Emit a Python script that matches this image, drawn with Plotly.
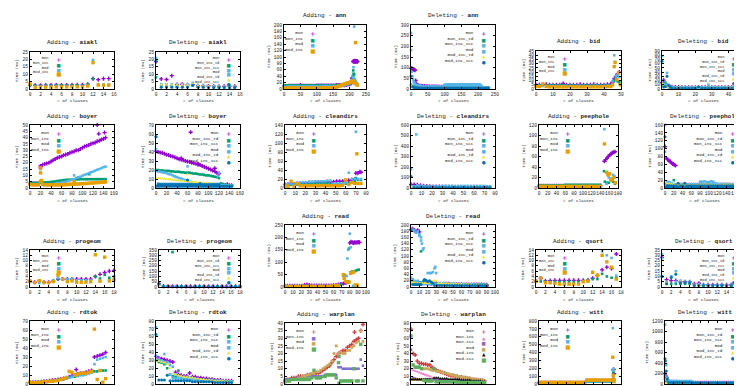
import plotly.graph_objects as go

W, H = 742, 386
MONO = "Liberation Mono, Courier New, monospace"


def run(x0, step, ys):
    return ([round(x0 + step * i, 3) for i in range(len(ys))], list(ys))


def at(*pairs):
    return ([p[0] for p in pairs], [p[1] for p in pairs])


def S(*parts):
    xs, ys = [], []
    for px, py in parts:
        xs += px
        ys += py
    return (xs, ys)


# ---------------- aiakl ----------------
aiakl_add_mon = S(run(0, 1, [2.6, 2.5, 2.5, 2.6, 2.6, 2.7, 2.7, 2.7, 2.8, 2.8, 2.8, 3.2, 7.0, 6.3, 7.0, 7.0]))
aiakl_add_mon_inc = S(run(0, 1, [2.3, 2.3, 2.3, 2.4, 2.4, 2.5, 2.5, 2.5, 2.5, 2.5, 2.6, 3.0, 6.8, 3.0, 2.8, 2.8]))
aiakl_add_mod = S(run(0, 1, [3.0, 1.5, 1.5, 1.6, 1.6, 1.7, 1.7, 1.7, 1.8, 1.8, 1.8, 2.4, 19.6, 2.8, 2.7, 2.7]))
aiakl_add_mod_inc = S(run(0, 1, [3.4, 1.2, 1.2, 1.3, 1.3, 1.4, 1.4, 1.4, 1.5, 1.5, 1.5, 2.0, 17.8, 2.7, 2.6, 2.6]))

aiakl_del_mon = S(run(0, 1, [18.5, 6.8, 6.4, 9.0, 3.0, 3.2, 2.8, 3.0, 2.2, 2.0, 2.0, 1.9, 1.8, 1.8, 1.8, 1.8]))
aiakl_del_mon_inc_td = S(run(0, 1, [7.9, 2.0, 2.0, 2.0, 1.9, 1.9, 1.9, 2.4, 1.5, 1.5, 1.4, 1.4, 1.3, 1.3, 1.3, 1.3]))
aiakl_del_mon_inc_scc = S(run(0, 1, [20.0, 1.8, 1.8, 1.8, 1.7, 1.7, 1.7, 2.2, 1.4, 1.4, 1.3, 1.3, 1.2, 1.2, 1.2, 1.2]))
aiakl_del_mod = S(run(0, 1, [21.0, 3.3, 3.2, 3.2, 3.1, 3.0, 3.0, 4.2, 2.6, 2.2, 2.0, 1.8, 1.7, 1.6, 1.6, 1.5]))
aiakl_del_mod_inc_td = S(run(0, 1, [19.5, 2.9, 2.9, 2.9, 2.8, 2.8, 2.8, 3.4, 2.2, 1.9, 1.8, 1.6, 1.5, 1.5, 1.4, 1.4]))
aiakl_del_mod_inc_scc = S(run(0, 1, [19.0, 1.2, 1.2, 1.2, 1.2, 1.2, 1.2, 2.5, 1.1, 1.1, 1.0, 1.0, 1.0, 1.0, 1.0, 1.0]))

# ---------------- ann ----------------
ann_add_mon = S(run(0, 5, [9, 9, 9, 10, 10, 10, 10, 10, 10, 10, 12, 10, 10, 10, 10, 10, 10, 10, 10, 10,
                           11, 11, 11, 11, 11, 11, 11, 11, 11, 11, 11, 11, 12, 12, 12, 12, 12, 12, 13, 14, 15]),
                at((204, 17), (206, 25), (208, 33), (209, 35), (211, 86), (212, 87), (213, 85), (214, 87),
                   (215, 86), (216, 88), (217, 86), (218, 87), (219, 86), (220, 86), (221, 87), (222, 86),
                   (223, 86), (224, 86)))
ann_add_mon_inc = S(run(0, 5, [12, 10, 10, 10, 10, 10, 10, 10, 10, 10, 10, 10, 10, 10, 10, 10, 10, 10, 10, 10,
                               10, 10, 10, 10, 10, 10, 10, 10, 10, 10, 10, 11, 11, 11, 12, 12, 13, 13, 15, 16, 17]),
                    run(2.5, 5, [11, 11, 11, 11, 11, 11, 11, 11, 11, 11, 11, 11, 11, 11, 11, 11, 11, 11, 11, 11,
                                 11, 11, 11, 11, 11, 11, 11, 11, 11, 11, 11, 12, 12, 12, 13, 13, 14, 14, 16, 17]),
                    at((204, 20), (206, 22), (208, 30), (210, 40), (211, 58), (212, 48), (214, 45), (216, 22),
                       (218, 20), (220, 18), (222, 16)))
ann_add_mod = S(run(0, 5, [5, 7, 7, 8, 8, 8, 8, 8, 8, 8, 8, 8, 8, 8, 8, 8, 8, 8, 8, 8,
                           8, 8, 8, 8, 9, 9, 9, 9, 9, 9, 9, 9, 9, 10, 10, 10, 11, 12, 13, 15, 17]),
                at((204, 20), (206, 24), (208, 28), (210, 38), (212, 68), (213, 36), (214, 195), (216, 30),
                   (218, 25), (220, 20), (222, 18)))
ann_add_mod_inc = S(run(0, 5, [3, 3, 3, 3, 3, 3, 3, 3, 3, 3, 3, 3, 3, 3, 3, 3, 3, 3, 3, 3,
                               3, 3, 3, 3, 4, 4, 4, 4, 4, 4, 5, 5, 6, 8, 10, 12, 14, 16, 18, 19, 20]),
                    at((204, 22), (206, 24), (208, 25), (210, 24), (212, 22), (214, 20), (216, 18), (218, 145),
                       (220, 16), (222, 14), (224, 12)))

ann_del_mon = S(run(0, 2, [97, 96, 95, 93, 92, 90, 88, 40, 25, 20, 18]),
                run(25, 5, [15, 15, 14, 14, 13, 13, 12, 12, 12, 11, 11, 11, 10, 10, 10, 10, 9, 9, 9, 9,
                            8, 8, 8, 8, 8, 7, 7, 7, 7, 7, 7, 6, 6, 6, 6, 6, 6, 5, 5, 5, 5, 5]))
ann_del_mon_inc_td = S(run(0, 5, [20, 14, 12, 10, 10, 10, 9, 9, 9, 9, 9, 9, 9, 9, 8, 8, 8, 8, 8, 8,
                                  8, 8, 8, 8, 8, 8, 8, 8, 8, 8, 8, 8, 8, 8, 8, 8, 8, 8, 8, 8,
                                  8, 8, 7, 7, 7, 7, 7]))
ann_del_mon_inc_scc = S(run(0, 5, [182, 10, 8, 7, 7, 6, 6, 6, 6, 6, 6, 6, 6, 6, 6, 6, 6, 6, 6, 6,
                                   6, 6, 6, 6, 6, 6, 6, 6, 6, 6, 6, 6, 6, 6, 6, 6, 6, 6, 6, 5,
                                   5, 5, 5, 5, 5, 5, 5]))
ann_del_mod = S(run(0, 2, [262, 80, 60, 45, 35, 30, 25]),
                run(15, 5, [20, 18, 16, 14, 12, 12, 12, 12, 12, 12, 12, 12, 12, 12, 12, 12, 12, 15, 18, 20,
                            21, 21, 21, 21, 21, 21, 21, 21, 21, 21, 21, 21, 21, 21, 21, 21, 21, 21, 20, 15,
                            8, 6, 5]),
                run(102.5, 5, [14, 16, 17, 15, 16, 17, 15, 16, 17, 15, 16, 17, 15, 16, 17, 15, 16, 17, 15, 16,
                               17, 15]),
                run(100, 2.5, [19, 20, 19, 20, 19, 20, 19, 20, 19, 20, 19, 20, 19, 20, 19, 20, 19, 20, 19, 20,
                               19, 20, 19, 20, 19, 20, 19, 20, 19, 20, 19, 20, 19, 20, 19, 20, 19, 20, 19, 20,
                               19, 20, 19]))
ann_del_mod_inc_td = S(run(0, 5, [15, 8, 6, 5, 5, 4, 4, 4, 4, 4, 4, 4, 4, 4, 4, 4, 4, 4, 4, 4,
                                  4, 4, 4, 4, 4, 4, 4, 4, 4, 4, 4, 4, 4, 4, 4, 4, 4, 4, 4, 4,
                                  3, 3, 3, 3, 3, 3, 3]))
ann_del_mod_inc_scc = S(run(0, 5, [60, 9, 7, 6, 6, 5, 5, 5, 5, 5, 5, 5, 5, 5, 5, 5, 5, 5, 5, 5,
                                   5, 5, 5, 5, 5, 5, 5, 5, 5, 5, 5, 5, 5, 5, 5, 5, 5, 5, 5, 5,
                                   5, 5, 4, 4, 4, 4, 4]))

# ---------------- bid ----------------
bid_add_mon = S(run(0, 2, [5, 5, 5, 5.5, 5, 5, 5, 5, 6.5, 5, 5, 5, 5, 5.5, 5, 5, 5, 5.5, 5, 5, 5, 5.5, 6]),
                run(45, 1, [8, 12, 15, 18, 20]))
bid_add_mon_inc = S(run(0, 2, [4.5, 4.5, 4.5, 4.5, 4.5, 4.5, 4.5, 4.5, 4.5, 4.5, 4.5, 4.5, 4.5, 4.5, 4.5,
                               4.5, 4.5, 4.5, 4.5, 4.5, 4.5, 4.5, 4.5]),
                    run(45, 1, [6, 10, 13, 9, 8]))
bid_add_mod = S(run(0, 2, [4, 3.5, 3.5, 3.5, 3.5, 3.5, 3.5, 3.5, 3.5, 3.5, 3.5, 3.5, 3.5, 3.5, 3.5,
                           3.5, 3.5, 3.5, 3.5, 3.5, 3.5, 3.8, 4]),
                at((45, 9), (46, 40), (46.5, 32), (47, 15), (48, 17), (49, 14)))
bid_add_mod_inc = S(run(0, 2, [3, 3, 6, 3, 2.5, 2.5, 2.5, 2.5, 2.5, 2.5, 2.5, 2.5, 2.5, 2.5, 2.5,
                               2.5, 2.5, 2.5, 2.5, 2.5, 2.5, 2.8, 3]),
                    at((45, 5), (46, 26.5), (46.5, 31.5), (47.5, 11), (48.5, 19), (49.5, 5)))

bid_del_mon = S(run(0, 1, [15, 21, 12, 8, 6, 5]),
                run(6, 2, [5, 4.5, 4.5, 4, 4, 4, 4, 4, 4, 4, 4, 4, 4, 4, 4, 4, 4, 4, 4, 4, 4, 4]))
bid_del_mon_inc_td = S(run(0, 1, [12, 8, 15, 6, 5, 4]),
                       run(6, 2, [3.5, 3.5, 3.5, 3.5, 3.5, 3.5, 3.5, 3.5, 3.5, 3.5, 3.5, 3.5, 3.5, 3.5, 3.5,
                                  3.5, 3.5, 3.5, 3.5, 3.5, 3.5, 3.5]))
bid_del_mon_inc_scc = S(run(0, 1, [20, 12, 10, 8, 5, 4]),
                        run(6, 2, [3, 3, 3, 3, 3, 3, 3, 3, 3, 3, 3, 3, 3, 3, 3, 3, 3, 3, 3, 3, 3, 3]))
bid_del_mod = S(run(0, 1, [78, 8, 10, 38, 10, 6]),
                run(6, 2, [4, 4, 4, 4, 4, 4, 4, 4, 4, 4, 4, 10, 4, 4, 4, 4, 4, 4, 4, 4, 4, 4]))
bid_del_mod_inc_td = S(run(0, 1, [14, 7, 6, 6, 5, 4]),
                       run(6, 2, [3, 3, 3, 3, 3, 3, 3, 3, 3, 3, 3, 3, 3, 3, 3, 3, 3, 3, 3, 3, 3, 3]))
bid_del_mod_inc_scc = S(run(0, 1, [66, 5, 6, 30, 8, 5]),
                        run(6, 2, [2, 2, 2, 2, 2, 2, 2, 2, 5, 2, 2, 2, 2, 2, 2, 2, 2, 2, 2, 2, 2, 2]))

# ---------------- boyer ----------------
boyer_add_mon = S(run(0, 4, [3.5, 3.5, 3.5, 3.5, 3.5, 17.5, 18.5, 19, 19.5, 20, 21, 22, 23, 24, 24.5, 25, 26,
                             26.5, 27, 28, 28.5, 29, 30, 30, 31, 32, 33, 33.5, 34, 35, 35.5, 36, 37, 37.5,
                             38.5, 39, 40]),
                  at((20, 16), (128, 50), (131, 43), (142, 44)))
boyer_add_mon_inc = S(run(0, 4, [4, 4, 4, 4, 4, 4.2, 4.3, 4.4, 4.5, 4.6, 4.8, 5, 5.2, 5.5, 5.8, 6, 6.2, 6.4,
                                 6.5, 6.6, 6.7, 6.8, 6.8, 6.9, 7, 7, 7, 7, 7, 7, 7, 7, 7, 7, 7, 7, 7]),
                      at((20, 5.5), (113, 11)))
boyer_add_mod = S(run(0, 4, [3, 3, 3, 3, 3, 15, 2.5, 2.5, 2.5, 2.5, 3, 3, 3.2, 3.5, 3.8, 4, 4.5, 5, 5.5, 6,
                             6.5, 7, 8, 8.5, 9, 9.8, 10.5, 11, 11.8, 12.5, 13, 13.8, 14.5, 15, 15.8, 16.5, 17]),
                  at((84, 10)))
boyer_add_mod_inc = S(run(0, 4, [3, 2.5, 2.5, 2.5, 2.5, 12, 3, 2.5, 2.5, 2.5, 2.5, 2.5, 2.5, 2.5, 2.5, 2.5,
                                 2.5, 2.8, 2.8, 3, 3, 3, 3.2, 3.2, 3.4, 3.4, 3.5, 3.6, 3.8, 4, 4, 4.2, 4.3,
                                 4.4, 4.5, 4.6, 4.8]),
                      at((20, 16), (20, 5), (22, 6), (84, 5)))

boyer_del_mon = S(run(0, 4, [41, 40, 39.5, 39, 38, 37, 36.5, 35.5, 35, 34, 33, 32, 31.5, 31, 30, 29.5, 29, 28,
                             27.5, 27, 26, 25.5, 24.5, 23.5, 22.5, 21.5, 20.5, 19.5, 18.5, 17, 16, 4, 3.5, 3,
                             3, 3, 3]),
                  at((66, 62), (48, 33), (80, 27), (112, 22), (136, 4)))
boyer_del_mon_inc_td = S(run(0, 4, [20, 20, 19.5, 19.5, 19, 19, 19, 18.5, 18.5, 18, 18, 18, 17.5, 17.5, 17, 17,
                                    17, 16.5, 16, 16, 15.5, 15, 15, 14.5, 14, 14, 13.5, 13, 12.5, 12, 11, 5, 4,
                                    3.5, 3, 3, 3]))
boyer_del_mon_inc_scc = S(run(0, 4, [43, 5, 4.5, 4.5, 4.5, 4.5, 4.5, 4.5, 4.5, 4.5, 4.5, 4.5, 4.5, 4.5, 4.5,
                                     4.5, 4.5, 4.5, 4.5, 4.5, 4.5, 4.5, 4.5, 4.5, 4.5, 4.5, 4.5, 4.5, 4.5, 4.5,
                                     4.5, 3, 2.5, 2.5, 2.5, 2.5, 2.5]),
                          at((0, 57)))
boyer_del_mod = S(run(0, 4, [19, 18.5, 18, 17.5, 17, 16.5, 15.5, 15, 14, 13, 12, 11, 10.5, 9.5, 8.5, 8, 7, 6,
                             5, 4, 3, 2.5, 2, 2, 2, 2, 2, 2, 2, 2, 2, 2, 2, 2, 2, 2, 2]),
                  at((60, 24), (36, 13), (120, 17), (118, 13)))
boyer_del_mod_inc_td = S(run(0, 4, [11, 11, 10.5, 10.5, 10, 10, 9.5, 9.5, 9, 9, 8.5, 8.5, 8, 8, 7.5, 7.5, 7,
                                    7, 6.5, 6.5, 6, 6, 5.5, 5.5, 5, 5, 4.5, 4.5, 4, 4, 3.5, 2, 2, 2, 2, 2, 2]),
                         at((60, 15)))
boyer_del_mod_inc_scc = S(run(0, 4, [57, 4, 4, 4, 4, 4, 4, 4, 4, 4, 4, 4, 4, 4, 4, 4, 4, 4, 4, 4, 4, 4, 4,
                                     4, 4, 4, 4, 4, 4, 4, 4, 2, 2, 2, 2, 2, 2]),
                          run(2, 4, [2, 2, 2, 2, 2, 2, 2, 2, 2, 2, 2, 2, 2, 2, 2, 2, 2, 2, 2, 2, 2, 2, 2,
                                     2, 2, 2, 2, 2, 2, 2, 2]),
                          at((60, 9), (84, 5)))

# ---------------- cleandirs ----------------
clean_add_mon = S(run(0, 3, [8, 8, 9, 9, 10, 10, 11, 11, 12, 12, 12, 13, 13, 13, 14, 14, 14, 15, 15, 15, 16,
                             17, 18, 20, 33, 35]),
                  at((70, 33), (74, 36)))
clean_add_mon_inc = S(run(0, 3, [6, 6, 7, 7, 8, 8, 9, 9, 10, 10, 10, 10, 10, 10, 11, 8, 8, 8, 9, 9, 10, 11,
                                 12, 15, 18, 18]),
                      at((70, 22)))
clean_add_mod = S(run(0, 3, [7, 8, 9, 10, 11, 12, 13, 13, 14, 14, 15, 15, 15, 15, 16, 16, 10, 10, 10, 11, 12,
                             34, 20, 20, 20, 20]),
                  at((70, 125)))
clean_add_mod_inc = S(run(0, 3, [4, 4, 15, 4, 10, 5, 5, 5, 5, 5, 5, 5, 5, 5, 5, 5, 5, 5, 5, 6, 18, 8, 12,
                                 10, 10, 10]),
                      at((71, 76)))

clean_del_mon = S(run(0, 3, [35, 33, 30, 25, 20, 18, 16, 15, 14, 13, 12, 12, 11, 11, 10, 10, 10, 9, 9, 9, 8,
                             8, 8, 8, 8, 8]))
clean_del_mon_inc_td = S(run(0, 3, [20, 15, 12, 10, 10, 9, 9, 9, 9, 9, 9, 9, 9, 9, 9, 9, 9, 9, 9, 8, 8, 8,
                                    8, 8, 8, 8]))
clean_del_mon_inc_scc = S(run(0, 3, [15, 12, 10, 8, 8, 8, 8, 8, 8, 8, 8, 8, 8, 8, 8, 8, 8, 8, 8, 8, 8, 8,
                                     8, 8, 8, 8]))
clean_del_mod = S(run(0, 3, [180, 10, 25, 20, 20, 15, 15, 15, 15, 15, 20, 20, 20, 20, 20, 20, 20, 20, 20,
                             20, 20, 20, 20, 20, 18, 15]),
                  at((5, 510)))
clean_del_mod_inc_td = S(run(0, 3, [12, 8, 6, 5, 5, 5, 5, 5, 5, 5, 5, 5, 5, 5, 5, 5, 5, 5, 5, 5, 5, 5, 5,
                                    5, 5, 5]))
clean_del_mod_inc_scc = S(run(0, 3, [110, 5, 4, 4, 4, 4, 4, 4, 4, 4, 4, 4, 4, 4, 4, 4, 4, 4, 4, 4, 4, 4,
                                     4, 4, 4, 4]))

# ---------------- peephole ----------------
pee_add_mon = S(run(0, 5, [4, 4, 4, 4, 4, 4, 4, 4, 4, 4, 4, 4, 4, 4, 4, 4, 4, 4, 4, 4, 4, 4, 4, 4, 4, 4,
                           4, 4, 4]),
                run(149, 3, [51, 54, 57, 60, 63, 65, 67, 68, 69]))
pee_add_mon_inc = S(run(0, 5, [5, 5, 5, 5, 5, 5, 5, 5, 5, 5, 5, 5, 6, 6, 6, 6, 6, 6, 6, 6, 6, 6, 6, 6, 6,
                               6, 6, 6, 6]),
                    at((148, 32), (150, 12), (154, 10), (159, 10), (164, 15), (169, 12), (173, 8)))
pee_add_mod = S(run(0, 5, [3, 3, 3, 3, 3, 3, 3, 3, 3, 3, 3, 3, 3, 3, 3, 3, 3, 3, 3, 3, 3, 3, 3, 3, 3, 3,
                           3, 3, 3]),
                at((149, 112), (154, 8), (159, 20), (164, 18), (169, 25), (172, 22)))
pee_add_mod_inc = S(run(0, 5, [3, 3, 3, 3, 3, 3, 3, 3, 3, 3, 3, 3, 3, 3, 3, 3, 3, 3, 3, 3, 3, 3, 3, 3, 3,
                               3, 3, 3, 3]),
                    at((149, 84), (154, 30), (157, 25), (161, 27), (164, 15), (167, 17), (171, 20), (174, 10)))

pee_del_mon = S(at((0, 105), (3, 76), (6, 72), (9, 70), (12, 67), (15, 64), (18, 61), (21, 59), (24, 57)),
                run(30, 5, [8, 8, 8, 8, 8, 8, 8, 8, 8, 8, 8, 8, 8, 8, 8, 8, 8, 8, 8, 8, 8, 8, 8, 8, 8,
                            8, 8, 8, 8]))
pee_del_mon_inc_td = S(run(0, 5, [12, 10, 10, 9, 20, 8, 8, 8, 8, 8, 8, 8, 8, 8, 8, 8, 8, 8, 8, 8, 8, 8, 8,
                                  8, 8, 8, 8, 8, 8, 8, 8, 8, 8, 8, 8]))
pee_del_mon_inc_scc = S(run(0, 5, [92, 9, 9, 9, 9, 9, 9, 9, 9, 9, 9, 9, 9, 9, 9, 9, 9, 9, 9, 9, 9, 9, 9,
                                   9, 9, 9, 9, 9, 9, 9, 9, 9, 9, 9, 9]))
pee_del_mod = S(run(0, 5, [160, 16, 15, 12, 10, 8, 8, 8, 8, 8, 8, 8, 8, 8, 8, 8, 16, 16, 17, 15, 15, 17, 16,
                           12, 10, 10, 10, 10, 10, 10, 9, 9, 8, 8, 8]))
pee_del_mod_inc_td = S(run(0, 5, [14, 12, 11, 10, 9, 8, 8, 8, 8, 8, 8, 8, 8, 8, 8, 8, 8, 8, 8, 8, 8, 8, 8,
                                  8, 8, 8, 8, 8, 8, 8, 8, 8, 8, 8, 8]))
pee_del_mod_inc_scc = S(run(0, 5, [130, 6, 6, 6, 6, 6, 12, 6, 6, 12, 6, 6, 6, 6, 6, 6, 6, 6, 6, 6, 6, 6, 6,
                                   6, 6, 6, 6, 6, 6, 6, 6, 6, 6, 6, 6]),
                        run(2.5, 5, [3, 3, 3, 3, 3, 3, 3, 3, 3, 3, 3, 3, 3, 3, 3, 3, 3, 3, 3, 3, 3, 3, 3,
                                     3, 3, 3, 3, 3, 3, 3, 3, 3, 3, 3]))

# ---------------- progeom ----------------
prog_add_mon = S(run(0, 1, [2.2, 1.8, 2.3, 1.8, 1.8, 2.2, 3, 3, 3, 3, 3, 3, 3, 3, 4, 4.8, 5.5, 6, 6.3]))
prog_add_mon_inc = S(run(0, 1, [2, 1.6, 2, 1.6, 1.6, 2.2, 3, 3, 2.8, 2.8, 2.5, 2.5, 2.5, 2.5, 3.9, 3.2, 4.6, 3.5, 4]))
prog_add_mod = S(run(0, 1, [2.1, 1.7, 1.5, 1.7, 1.7, 2.6, 3.5, 3, 3, 3.2, 2.5, 2.5, 2.5, 2.5, 13.9, 2.5, 13.8, 2.5, 2.8]))
prog_add_mod_inc = S(run(0, 1, [2.2, 1.7, 2.4, 1.7, 1.7, 2.1, 4.5, 3, 2, 2.3, 1.8, 1.8, 1.8, 2, 12.2, 2.2, 11.3, 2.3, 2.7]))

prog_del_mon = S(run(0, 1, [30, 8, 7, 7, 6, 6, 6, 6, 6, 6, 6, 6, 6, 6, 6, 6, 6, 6, 6]))
prog_del_mon_inc_td = S(run(0, 1, [20, 6, 6, 330, 5, 5, 5, 5, 5, 5, 5, 5, 5, 5, 5, 5, 5, 5, 5]))
prog_del_mon_inc_scc = S(run(0, 1, [25, 5, 5, 6, 5, 5, 5, 5, 5, 5, 5, 5, 5, 5, 5, 5, 5, 5, 5]))
prog_del_mod = S(run(0, 1, [28, 5, 5, 5, 5, 5, 5, 5, 5, 5, 5, 5, 5, 5, 5, 5, 5, 5, 5]))
prog_del_mod_inc_td = S(run(0, 1, [15, 4, 4, 4, 4, 4, 4, 4, 4, 4, 4, 4, 4, 4, 4, 4, 4, 4, 4]))
prog_del_mod_inc_scc = S(run(0, 1, [32, 4, 4, 5, 4, 4, 4, 4, 4, 4, 4, 4, 4, 4, 4, 4, 4, 4, 4]))

# ---------------- read ----------------
read_add_mon = S(run(0, 3, [5, 5, 5, 5, 5, 5, 5, 5, 8, 10, 8, 6, 6, 6, 6, 6, 6, 6, 6, 6, 7, 8, 10, 12]),
                 run(72, 2, [14, 16, 18, 20]),
                 run(80, 1.5, [178, 182, 180, 178, 180, 179, 180, 181, 180]))
read_add_mon_inc = S(run(0, 3, [3, 3, 3, 3, 3, 3, 3, 3, 3, 3, 3, 3, 3, 3, 3, 3, 3, 3, 3, 3, 4, 5, 6]),
                     at((69, 10), (72, 50), (74, 48), (76, 20), (78, 18), (79, 155)),
                     run(81, 2, [60, 62, 63, 65, 68, 70]))
read_add_mod = S(run(0, 3, [4, 4, 4, 4, 4, 4, 4, 4, 4, 4, 4, 4, 4, 4, 4, 4, 4, 4, 4, 4, 5, 6, 8]),
                 at((72, 45), (74, 45), (76, 44), (77, 115), (78, 150), (80, 215), (81, 160)),
                 run(84, 2, [5, 5, 5, 5]))
read_add_mod_inc = S(run(0, 3, [2, 2, 2, 2, 2, 2, 2, 2, 2, 2, 2, 2, 2, 2, 2, 2, 2, 2, 3, 3, 4, 5, 6]),
                     at((72, 50), (73, 35), (75, 22), (77, 20), (79, 20), (81, 55), (83, 58), (85, 60),
                        (87, 8), (89, 8)))

read_del_mon = S(run(0, 2, [185, 188, 182, 180, 183, 178]),
                 run(12, 3, [12, 12, 12, 12, 11, 11, 11, 10, 10, 10, 10, 10, 9, 9, 9, 9, 9, 8, 8, 8, 8, 8,
                             8, 8, 8, 7, 7]))
read_del_mon_inc_td = S(run(0, 2, [20, 18, 15, 15, 15, 15, 115]),
                        run(15, 3, [12, 12, 12, 11, 11, 11, 10, 10, 10, 10, 10, 9, 9, 9, 9, 9, 8, 8, 8,
                                    8, 8, 8, 8, 8, 7, 7]))
read_del_mon_inc_scc = S(run(0, 2, [190, 185, 182, 175, 180, 170, 150]),
                         run(15, 3, [10, 10, 10, 9, 9, 9, 9, 9, 8, 8, 8, 8, 8, 8, 8, 8, 7, 7, 7, 7, 7, 7,
                                     7, 7, 6, 6]))
read_del_mod = S(run(0, 2, [30, 25, 20, 18, 20, 165, 160]),
                 at((13, 140), (14, 120), (15, 125), (20, 45), (22, 45), (24, 45), (26, 48), (28, 60),
                    (29, 65), (30, 45)),
                 run(33, 3, [12, 12, 11, 11, 10, 10, 10, 9, 9, 9, 8, 8, 8, 8, 7, 7, 7, 6, 6, 6]))
read_del_mod_inc_td = S(run(0, 2, [15, 14, 13, 12, 12, 12, 12, 12, 12, 12, 12, 14, 16, 18, 20, 20]),
                        run(33, 3, [12, 12, 11, 11, 10, 10, 10, 9, 9, 9, 8, 8, 8, 8, 7, 7, 7, 6, 6, 6]))
read_del_mod_inc_scc = S(run(0, 2, [185, 8, 8, 8, 8, 8, 8]),
                         at((15, 20), (16, 24), (18, 22), (20, 18), (22, 20), (24, 16), (26, 12)),
                         run(28, 3, [5, 5, 5, 5, 5, 5, 5, 5, 5, 5, 5, 5, 5, 5, 5, 5, 5, 5, 5, 5, 5, 5]))

# ---------------- qsort ----------------
qs_add_mon = S(run(0, 1, [2.2, 3.3, 2.3, 2.4, 2.5, 2.5, 2.5, 2.5, 2.5, 2.5, 2.5, 2.6, 3.3, 4.3, 6.5, 7.5, 7, 12.5]))
qs_add_mon_inc = S(run(0, 1, [2, 2.1, 2, 2, 2, 2, 2, 2, 2, 2, 2.3, 2.5, 3, 3, 5, 4, 3.5, 3.5]))
qs_add_mod = S(run(0, 1, [2.2, 3.4, 1.7, 1.7, 1.5, 1.2, 1.2, 1.2, 1.2, 1.2, 2, 2.2, 5.7, 4.5, 13.5, 12, 11, 4.3]))
qs_add_mod_inc = S(run(0, 1, [2.2, 3.4, 1.6, 1.6, 1.4, 1.1, 1.1, 1.1, 1.1, 1.1, 2, 2.2, 5.5, 4.5, 12, 9.5, 7.5, 3]))

qs_del_mon = S(run(0, 1, [28, 7, 6, 6, 5, 5, 5, 3, 3.5, 2, 2, 2, 2, 2, 2, 2, 2, 2]))
qs_del_mon_inc_td = S(run(0, 1, [10, 3, 3, 3, 3, 3, 3, 2, 2, 1.5, 1.5, 1.5, 1.5, 1.5, 1.5, 1.5, 1.5, 1.5]))
qs_del_mon_inc_scc = S(run(0, 1, [27, 4, 10, 5, 5, 4, 4, 2, 2, 1.5, 1.5, 1.5, 1.5, 1.5, 1.5, 1.5, 1.5, 1.5]))
qs_del_mod = S(run(0, 1, [31, 5, 10, 15, 6, 5, 5, 2, 2.5, 2, 2, 2, 2, 2, 2, 2, 2, 2]))
qs_del_mod_inc_td = S(run(0, 1, [25, 4, 9, 13, 5, 4, 4, 2, 2, 1.5, 1.5, 1.5, 1.5, 1.5, 1.5, 1.5, 1.5, 1.5]))
qs_del_mod_inc_scc = S(run(0, 1, [10, 3, 9, 12, 4, 4, 4, 1.5, 1.5, 1.5, 1.5, 1.5, 1.5, 1.5, 1.5, 1.5, 1.5, 1.5]))

# ---------------- rdtok ----------------
rd_add_mon = S(run(0, 2, [2, 2, 2, 2, 2.5, 3, 3, 3.5, 4, 4.5, 5, 5.5, 6, 7, 8, 9, 10, 11, 12, 12, 13, 14, 15,
                          30, 31, 32, 33, 35]),
               at((33, 16)))
rd_add_mon_inc = S(run(0, 2, [2, 2, 2, 2, 2.5, 2.5, 3, 3, 3.5, 4, 4.5, 5, 5.5, 6, 7, 8, 8, 9, 10, 10, 11, 12,
                              13, 14, 14, 15, 15, 15]))
rd_add_mod = S(run(0, 2, [2, 2, 2, 2, 2.5, 2.5, 3, 3, 3.5, 4, 4.5, 5, 5.5, 6, 7, 8, 9, 9, 10, 10, 11, 12, 13,
                          22, 27, 28, 29, 30]))
rd_add_mod_inc = S(run(0, 2, [2, 1.5, 1.5, 2, 2, 2.5, 2.5, 3, 3, 3.5, 4, 5, 6, 7, 14, 13, 10, 11, 12, 12, 12,
                              13, 14, 61, 5, 15, 2, 6]))

rd_del_mon = S(run(0, 2, [35, 33, 32, 31, 30, 29, 28, 15, 12, 11, 10, 10, 14, 9, 9, 8, 8, 7, 7, 6, 6, 5, 5, 5,
                          4, 4, 4, 4]))
rd_del_mon_inc_td = S(run(0, 2, [30, 28, 27, 25, 20, 12, 10, 9, 17, 8, 8, 7, 7, 7, 6, 6, 6, 5, 5, 5, 4, 4, 4,
                                 3, 3, 3, 3, 3]))
rd_del_mon_inc_scc = S(run(0, 2, [36, 32, 30, 38, 28, 12, 8, 7, 7, 6, 6, 6, 5, 5, 5, 5, 4, 4, 4, 4, 4, 3, 3,
                                  3, 3, 3, 3, 3]))
rd_del_mod = S(run(0, 2, [72, 30, 29, 28, 26, 24, 22, 12, 10, 9, 9, 8, 8, 7, 7, 6, 6, 5, 5, 5, 4, 4, 4, 4, 3,
                          3, 3, 3]))
rd_del_mod_inc_td = S(run(0, 2, [30, 29, 28, 27, 25, 20, 13, 12, 11, 10, 9, 9, 8, 8, 7, 7, 6, 6, 5, 5, 5, 4,
                                 4, 4, 4, 3, 3, 3]))
rd_del_mod_inc_scc = S(run(0, 2, [63, 5, 5, 5, 11, 4, 4, 4, 4, 4, 4, 4, 4, 3, 3, 3, 3, 3, 3, 3, 3, 2, 2, 2,
                                  2, 2, 2, 2]))

# ---------------- warplan ----------------
wp_add_mon = S(run(0, 3.3, [2, 3, 3, 4, 4, 4, 5, 5, 5, 5, 6, 6, 6, 6, 7, 7, 8, 9, 10, 11, 12, 14, 16, 18, 20,
                            21, 22, 22, 24, 25, 26, 28, 29, 30, 35, 39]),
               at((103, 34)))
wp_add_mon_inc = S(run(0, 3.3, [3, 3, 3, 3, 3, 4, 4, 4, 4, 4, 5, 5, 5, 5, 5, 5, 5, 5, 6, 6, 6, 6, 6, 6, 11,
                                11, 10, 10, 10, 10, 10, 10, 10, 10, 16, 12]))
wp_add_mod = S(run(0, 3.3, [1, 2, 2, 3, 3, 3, 4, 4, 5, 5, 6, 6, 7, 7, 8, 8, 9, 10, 11, 12, 13, 15, 20, 25, 20,
                            21, 20, 20, 22, 22, 24, 25, 27, 28, 35, 28]))
wp_add_mod_inc = S(run(0, 3.3, [2, 2, 2, 3, 3, 3, 3, 3, 3, 3, 3, 3, 4, 9, 4, 4, 4, 5, 5, 6, 6, 6, 6, 4, 14, 2,
                                2, 2, 2, 2, 2, 10, 2, 2, 26, 2]),
                   at((80, 0.5), (80, 18)))

wp_del_mon = S(run(0, 3, [72, 40, 38, 30, 27, 27, 26, 26, 25, 25, 22, 20, 18, 17, 16, 15, 14, 13, 12, 11, 11,
                          10, 10, 9, 9, 8, 8, 7, 7, 6, 6, 6, 5, 5, 5, 4]))
wp_del_mon_inc = S(run(0, 3, [20, 18, 17, 16, 15, 14, 13, 12, 11, 10, 8, 5, 3, 2, 2, 2, 2, 2, 2, 2, 2, 2,
                              2, 2, 2, 2, 2, 2, 2, 2, 2, 2, 2, 2, 2, 2]))
wp_del_mon_scc = S(run(0, 3, [45, 8, 7, 6, 6, 6, 6, 6, 6, 6, 6, 6, 5, 5, 5, 5, 5, 5, 5, 5, 5, 5, 4, 4, 4, 4,
                              4, 4, 4, 4, 3, 3, 3, 3, 3, 3]))
wp_del_mod = S(run(0, 3, [6, 6, 6, 6, 6, 6, 20, 20, 20, 19, 18, 18, 17, 17, 16, 15, 15, 14, 13, 12, 12, 11,
                          10, 10, 9, 9, 8, 8, 7, 7, 6, 6, 5, 5, 5, 4]))
wp_del_mod_inc = S(run(0, 3, [6, 6, 6, 6, 6, 6, 6, 6, 6, 6, 30, 8, 8, 8, 7, 7, 7, 7, 6, 6, 6, 6, 6, 6, 5, 5,
                              5, 5, 5, 4, 4, 4, 4, 4, 3, 3]))
wp_del_mod_scc = S(run(0, 3, [63, 25, 22, 22, 22, 20, 5, 4, 4, 4, 4, 20, 3, 3, 3, 3, 3, 3, 3, 3, 3, 3, 2, 2,
                              2, 2, 2, 2, 2, 2, 2, 2, 2, 2, 2, 2]))

# ---------------- witt ----------------
witt_add_mon = S(run(0, 5, [15, 15, 15, 15, 15, 15, 15, 15, 15, 15, 15, 15, 15, 15, 15, 15, 15, 15, 15, 15,
                            15, 40, 40, 40, 40, 40, 40, 40, 40, 40, 40, 40, 40]),
                 at((162, 60), (163, 180), (164, 185), (165, 130)))
witt_add_mon_inc = S(run(0, 5, [10, 10, 10, 10, 10, 10, 10, 10, 10, 10, 10, 10, 10, 10, 10, 10, 10, 10, 10,
                                10, 10, 30, 30, 30, 30, 30, 30, 30, 30, 30, 30, 30, 30]),
                     at((162, 40), (163, 150), (164, 100), (165, 60)))
witt_add_mod = S(run(0, 5, [12, 12, 12, 12, 12, 12, 12, 12, 12, 12, 12, 12, 12, 12, 12, 12, 12, 12, 12, 12,
                            12, 35, 35, 35, 35, 35, 35, 35, 35, 35, 35, 35, 35]),
                 at((162, 710), (163, 190), (164, 170)))
witt_add_mod_inc = S(run(0, 5, [20, 20, 20, 20, 20, 20, 20, 20, 20, 20, 20, 20, 20, 20, 20, 20, 20, 20, 20,
                                20, 20, 50, 50, 50, 50, 50, 50, 50, 50, 50, 50, 50, 50]),
                     at((162, 340), (163, 110), (164, 60), (165, 30)))

witt_del_mon = S(at((0, 200), (2, 150), (4, 120)),
                 run(5, 5, [50, 45, 40, 40, 40, 35, 35, 35, 35, 35, 35, 30, 25, 25, 25, 25, 25, 25, 25, 25,
                            25, 25, 25, 25, 25, 25, 25, 25, 25, 25, 25, 25]))
witt_del_mon_inc_td = S(at((0, 100), (2, 60)),
                        run(5, 5, [30, 30, 30, 30, 30, 30, 30, 30, 30, 30, 30, 25, 20, 20, 20, 20, 20, 20,
                                   20, 20, 20, 20, 20, 20, 20, 20, 20, 20, 20, 20, 20, 20]))
witt_del_mon_inc_scc = S(at((0, 150), (2, 90)),
                         run(5, 5, [20, 20, 20, 20, 20, 20, 20, 20, 20, 20, 20, 20, 15, 15, 15, 15, 15, 15,
                                    15, 15, 15, 15, 15, 15, 15, 15, 15, 15, 15, 15, 15, 15]))
witt_del_mod = S(at((0, 1130), (3, 360), (5, 120)),
                 run(8, 4, [55, 55, 55, 55, 55, 55, 55, 55, 55, 55, 55, 55, 55, 55]),
                 run(65, 5, [20, 20, 20, 20, 20, 20, 20, 20, 20, 20, 20, 20, 20, 20, 20, 20, 20, 20, 20,
                             20]))
witt_del_mod_inc_td = S(at((0, 400), (2, 80)),
                        run(5, 5, [15, 15, 15, 15, 15, 15, 15, 15, 15, 15, 15, 15, 12, 12, 12, 12, 12, 12,
                                   12, 12, 12, 12, 12, 12, 12, 12, 12, 12, 12, 12, 12, 12]))
witt_del_mod_inc_scc = S(at((0, 480), (1, 440), (3, 250), (5, 90)),
                         run(8, 5, [30, 30, 30, 30, 30, 30, 30, 30, 30, 30, 30, 25, 20, 20, 20, 20, 20, 20,
                                    20, 20, 20, 20, 20, 20, 20, 20, 20, 20, 20, 20, 20]))

# ---------------- styles ----------------
STD = {
    "mon": dict(symbol="cross", color="#9400D3", size=3.4, glyph="+", gsize=6.5),
    "mon_inc": dict(symbol="square", color="#009E73", size=2.6, glyph="■", gsize=4.5),
    "mod": dict(symbol="square", color="#56B4E9", size=2.6, glyph="■", gsize=4.5),
    "mod_inc": dict(symbol="square", color="#E69F00", size=3.4, glyph="■", gsize=5.5),
    "mon_inc_td": dict(symbol="square", color="#009E73", size=2.6, glyph="■", gsize=4.5),
    "mon_inc_scc": dict(symbol="square", color="#56B4E9", size=2.6, glyph="■", gsize=4.5),
    "mod_inc_td": dict(symbol="triangle-up", color="#F0E442", size=3.2, glyph="▲", gsize=4.5),
    "mod_inc_scc": dict(symbol="circle", color="#0072B2", size=3.0, glyph="●", gsize=4.5),
}
WP = {
    "mon": dict(symbol="cross", color="#D03B3B", size=3.4, glyph="+", gsize=6.5),
    "mon-inc": dict(symbol="square", color="#7C6FD0", size=2.6, glyph="■", gsize=4.5),
    "mon-scc": dict(symbol="square", color="#8A62B8", size=2.6, glyph="■", gsize=4.5),
    "mod": dict(symbol="square", color="#C9A85E", size=2.8, glyph="■", gsize=4.5),
    "mod-inc": dict(symbol="square", color="#5FAE5F", size=3.4, glyph="■", gsize=5.5),
    "mod-scc": dict(symbol="square", color="#5FAE5F", size=3.4, glyph="■", gsize=5.5),
}
WP_DEL = dict(WP)
WP_DEL["mon-inc"] = dict(symbol="triangle-up", color="#F27BC8", size=3.2, glyph="▲", gsize=4.5)
WP_DEL["mod-inc"] = dict(symbol="triangle-up", color="#111111", size=3.2, glyph="▲", gsize=4.5)

ADD_KEYS = ["mon", "mon_inc", "mod", "mod_inc"]
DEL_KEYS = ["mon", "mon_inc_td", "mon_inc_scc", "mod", "mod_inc_td", "mod_inc_scc"]
WP_ADD_KEYS = ["mon", "mon-inc", "mod", "mod-inc"]
WP_DEL_KEYS = ["mon", "mon-inc", "mon-scc", "mod", "mod-inc", "mod-scc"]

PANELS = [
    ("Adding", "aiakl", (22, 106, 44, 81), (0, 16, 2), (0, 25, 5), ADD_KEYS, STD,
     [aiakl_add_mon, aiakl_add_mon_inc, aiakl_add_mod, aiakl_add_mod_inc]),
    ("Deleting", "aiakl", (148, 232, 44, 81), (0, 16, 2), (0, 25, 5), DEL_KEYS, STD,
     [aiakl_del_mon, aiakl_del_mon_inc_td, aiakl_del_mon_inc_scc, aiakl_del_mod, aiakl_del_mod_inc_td,
      aiakl_del_mod_inc_scc]),
    ("Adding", "ann", (276, 358, 17, 81), (0, 250, 50), (0, 200, 20), ADD_KEYS, STD,
     [ann_add_mon, ann_add_mon_inc, ann_add_mod, ann_add_mod_inc]),
    ("Deleting", "ann", (403, 487, 17, 81), (0, 250, 50), (0, 300, 50), DEL_KEYS, STD,
     [ann_del_mon, ann_del_mon_inc_td, ann_del_mon_inc_scc, ann_del_mod, ann_del_mod_inc_td,
      ann_del_mod_inc_scc]),
    ("Adding", "bid", (528, 613, 43, 81), (0, 50, 10), (0, 45, 5), ADD_KEYS, STD,
     [bid_add_mon, bid_add_mon_inc, bid_add_mod, bid_add_mod_inc]),
    ("Deleting", "bid", (654, 737, 43, 81), (0, 50, 10), (0, 90, 10), DEL_KEYS, STD,
     [bid_del_mon, bid_del_mon_inc_td, bid_del_mon_inc_scc, bid_del_mod, bid_del_mod_inc_td,
      bid_del_mod_inc_scc]),
    ("Adding", "boyer", (22, 106, 117, 180), (0, 160, 20), (0, 50, 5), ADD_KEYS, STD,
     [boyer_add_mon, boyer_add_mon_inc, boyer_add_mod, boyer_add_mod_inc]),
    ("Deleting", "boyer", (148, 232, 117, 180), (0, 160, 20), (0, 70, 10), DEL_KEYS, STD,
     [boyer_del_mon, boyer_del_mon_inc_td, boyer_del_mon_inc_scc, boyer_del_mod, boyer_del_mod_inc_td,
      boyer_del_mod_inc_scc]),
    ("Adding", "cleandirs", (277, 358, 117, 180), (0, 80, 10), (0, 140, 20), ADD_KEYS, STD,
     [clean_add_mon, clean_add_mon_inc, clean_add_mod, clean_add_mod_inc]),
    ("Deleting", "cleandirs", (403, 487, 117, 180), (0, 80, 10), (0, 600, 100), DEL_KEYS, STD,
     [clean_del_mon, clean_del_mon_inc_td, clean_del_mon_inc_scc, clean_del_mod, clean_del_mod_inc_td,
      clean_del_mod_inc_scc]),
    ("Adding", "peephole", (531, 610, 117, 180), (0, 180, 20), (0, 120, 20), ADD_KEYS, STD,
     [pee_add_mon, pee_add_mon_inc, pee_add_mod, pee_add_mod_inc]),
    ("Deleting", "peephole", (657, 736, 117, 180), (0, 180, 20), (0, 160, 20), DEL_KEYS, STD,
     [pee_del_mon, pee_del_mon_inc_td, pee_del_mon_inc_scc, pee_del_mod, pee_del_mod_inc_td,
      pee_del_mod_inc_scc]),
    ("Adding", "progeom", (22, 106, 242, 279), (0, 18, 2), (0, 14, 2), ADD_KEYS, STD,
     [prog_add_mon, prog_add_mon_inc, prog_add_mod, prog_add_mod_inc]),
    ("Deleting", "progeom", (151, 232, 242, 279), (0, 18, 2), (0, 350, 50), DEL_KEYS, STD,
     [prog_del_mon, prog_del_mon_inc_td, prog_del_mon_inc_scc, prog_del_mod, prog_del_mod_inc_td,
      prog_del_mod_inc_scc]),
    ("Adding", "read", (277, 358, 217, 279), (0, 100, 10), (0, 250, 50), ADD_KEYS, STD,
     [read_add_mon, read_add_mon_inc, read_add_mod, read_add_mod_inc]),
    ("Deleting", "read", (403, 487, 217, 279), (0, 100, 10), (0, 200, 20), DEL_KEYS, STD,
     [read_del_mon, read_del_mon_inc_td, read_del_mon_inc_scc, read_del_mod, read_del_mod_inc_td,
      read_del_mod_inc_scc]),
    ("Adding", "qsort", (528, 613, 242, 279), (0, 18, 2), (0, 14, 2), ADD_KEYS, STD,
     [qs_add_mon, qs_add_mon_inc, qs_add_mod, qs_add_mod_inc]),
    ("Deleting", "qsort", (654, 737, 242, 279), (0, 18, 2), (0, 35, 5), DEL_KEYS, STD,
     [qs_del_mon, qs_del_mon_inc_td, qs_del_mon_inc_scc, qs_del_mod, qs_del_mod_inc_td, qs_del_mod_inc_scc]),
    ("Adding", "rdtok", (22, 106, 313, 376), (0, 60, 10), (0, 70, 10), ADD_KEYS, STD,
     [rd_add_mon, rd_add_mon_inc, rd_add_mod, rd_add_mod_inc]),
    ("Deleting", "rdtok", (148, 232, 313, 376), (0, 60, 10), (0, 80, 10), DEL_KEYS, STD,
     [rd_del_mon, rd_del_mon_inc_td, rd_del_mon_inc_scc, rd_del_mod, rd_del_mod_inc_td, rd_del_mod_inc_scc]),
    ("Adding", "warplan", (277, 358, 315, 376), (0, 120, 20), (0, 40, 5), WP_ADD_KEYS, WP,
     [wp_add_mon, wp_add_mon_inc, wp_add_mod, wp_add_mod_inc]),
    ("Deleting", "warplan", (403, 487, 315, 376), (0, 120, 20), (0, 80, 10), WP_DEL_KEYS, WP_DEL,
     [wp_del_mon, wp_del_mon_inc, wp_del_mon_scc, wp_del_mod, wp_del_mod_inc, wp_del_mod_scc]),
    ("Adding", "witt", (531, 613, 313, 376), (0, 180, 20), (0, 800, 100), ADD_KEYS, STD,
     [witt_add_mon, witt_add_mon_inc, witt_add_mod, witt_add_mod_inc]),
    ("Deleting", "witt", (657, 736, 313, 376), (0, 180, 20), (0, 1200, 200), DEL_KEYS, STD,
     [witt_del_mon, witt_del_mon_inc_td, witt_del_mon_inc_scc, witt_del_mod, witt_del_mod_inc_td,
      witt_del_mod_inc_scc]),
]

fig = go.Figure()
annotations = []
layout = dict(width=W, height=H, margin=dict(l=0, r=0, t=0, b=0), autosize=False,
              paper_bgcolor="white", plot_bgcolor="white", showlegend=False)

TXT = "#222222"

for i, (op, name, box, xr, yr, keys, style, series) in enumerate(PANELS):
    l, r, t, b = box
    sfx = "" if i == 0 else str(i + 1)
    xa, ya = "x" + sfx, "y" + sfx
    common = dict(showgrid=False, zeroline=False, showline=True, linecolor="black", linewidth=1.3,
                  mirror="ticks", ticks="inside", ticklen=2, tickwidth=0.7, tickcolor="black",
                  fixedrange=True, tickangle=0, automargin=False)
    bottom_row = b > 370
    xfont = dict(family=MONO, size=4.3 if bottom_row else 4.6, color=TXT)
    layout["xaxis" + sfx] = dict(domain=[l / W, r / W], range=[xr[0], xr[1]], tickmode="linear",
                                 tick0=xr[0], dtick=xr[2], anchor=ya, tickfont=xfont, **common)
    layout["yaxis" + sfx] = dict(domain=[1 - b / H, 1 - t / H], range=[yr[0], yr[1]], tickmode="linear",
                                 tick0=yr[0], dtick=yr[2], anchor=xa,
                                 tickfont=dict(family=MONO, size=4.6, color=TXT), **common)

    for key, (xs, ys) in zip(keys, series):
        st = style[key]
        fig.add_trace(go.Scatter(x=xs, y=ys, mode="markers", xaxis=xa, yaxis=ya, name=key,
                                 cliponaxis=False,
                                 marker=dict(symbol=st["symbol"], color=st["color"], size=st["size"],
                                             line=dict(width=0))))

    # title
    annotations.append(dict(text=op + " - <b>" + name + "</b>", x=(l + r) / 2 / W, y=1 - (t - 9) / H,
                            xref="paper", yref="paper", showarrow=False, xanchor="center", yanchor="middle",
                            font=dict(family=MONO, size=6, color=TXT)))
    # axis titles
    nchar = len(str(yr[1]))
    annotations.append(dict(text="Time (ms)", x=(l - 8 - 2.6 * nchar) / W, y=1 - (t + b) / 2 / H,
                            xref="paper", yref="paper", showarrow=False, textangle=-90,
                            xanchor="center", yanchor="middle", borderpad=0,
                            font=dict(family=MONO, size=4.3, color=TXT)))
    if not bottom_row:
        annotations.append(dict(text="# of clauses", x=(l + r) / 2 / W, y=1 - (b + 12) / H,
                                xref="paper", yref="paper", showarrow=False, xanchor="center",
                                yanchor="middle", borderpad=0, font=dict(family=MONO, size=4.3, color=TXT)))
    # key: one text column and one symbol column
    tall = (b - t) > 45
    fsize = 4.3 if tall else 3.7
    gap = 1.3 * fsize
    first = 6.3 if tall else 5.0
    ytop = 1 - (t + first - gap / 2) / H
    if op == "Adding":
        tx, sx = l + 20, l + 28.5
    else:
        tx, sx = r - 20, r - 12
    annotations.append(dict(text="<br>".join(keys), x=tx / W, y=ytop, xref="paper", yref="paper",
                            showarrow=False, xanchor="right", yanchor="top", align="right", borderpad=0,
                            font=dict(family=MONO, size=fsize, color=TXT)))
    glyphs = "<br>".join("<span style='color:%s;font-size:%.1fpx'>%s</span>"
                         % (style[k]["color"], style[k]["gsize"], style[k]["glyph"]) for k in keys)
    annotations.append(dict(text=glyphs, x=sx / W, y=ytop, xref="paper", yref="paper",
                            showarrow=False, xanchor="center", yanchor="top", align="center", borderpad=0,
                            font=dict(family="DejaVu Sans", size=fsize, color=TXT)))

layout["annotations"] = annotations
fig.update_layout(**layout)
fig.write_html("out.html")
